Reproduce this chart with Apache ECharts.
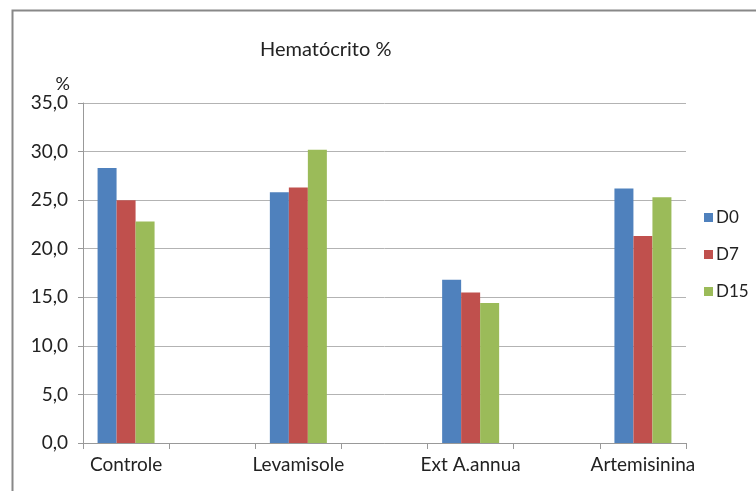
<!DOCTYPE html>
<html>
<head>
<meta charset="utf-8">
<script src="https://cdn.jsdelivr.net/npm/echarts@6/dist/echarts.min.js"></script>
<style>
  html, body { margin: 0; padding: 0; background: #fff; }
  #chart { width: 756px; height: 491px; }
</style>
</head>
<body>
<div id="chart"></div>
<script>
// grupos (com categorias vazias entre eles, como no original)
const categories = ['Controle', '', 'Levamisole', '', 'Ext A.annua', '', 'Artemisinina'];
const d0 = [28.3, null, 25.8, null, 16.8, null, 26.2];
const d7 = [25.0, null, 26.3, null, 15.5, null, 21.3];
const d15 = [22.8, null, 30.2, null, 14.4, null, 25.3];
const seriesNames = ['D0', 'D7', 'D15'];
const yTicks = [0, 5, 10, 15, 20, 25, 30, 35];

const FONT = 'Lato, "Open Sans", sans-serif';
const colors = ['#4F81BD', '#C0504D', '#9BBB59'];

const chart = echarts.init(document.getElementById('chart'), null, { renderer: 'canvas' });

const option = {
    animation: false,
    color: colors,
    textStyle: { fontFamily: FONT },
    title: {
        text: 'Hematócrito %',
        left: 255,
        top: 35,
        textStyle: { fontSize: 20, fontWeight: 'normal', color: '#222', fontFamily: FONT }
    },
    legend: {
        orient: 'vertical',
        left: 699,
        top: 204,
        itemWidth: 9,
        itemHeight: 9,
        itemGap: 20,
        icon: 'rect',
        textStyle: { fontSize: 17, color: '#222', fontFamily: FONT, padding: [0, 0, 0, -2] },
        data: seriesNames
    },
    grid: { left: 83, right: 70, top: 103, bottom: 48 },
    xAxis: {
        type: 'category',
        data: categories,
        boundaryGap: true,
        axisLine: { lineStyle: { color: '#999', width: 1 } },
        axisTick: { show: true, length: 6, lineStyle: { color: '#999' } },
        axisLabel: { interval: 0, margin: 12, fontSize: 19, color: '#222', fontFamily: FONT }
    },
    yAxis: {
        type: 'value',
        min: yTicks[0],
        max: yTicks[yTicks.length - 1],
        interval: 5,
        name: '%',
        nameLocation: 'end',
        nameGap: 7,
        nameTextStyle: { fontSize: 18, color: '#222', align: 'right', padding: [0, 13, 0, 0], fontFamily: FONT },
        axisLine: { show: true, lineStyle: { color: '#999', width: 1 } },
        axisTick: { show: true, length: 5, lineStyle: { color: '#999' } },
        axisLabel: {
            margin: 15,
            fontSize: 19,
            color: '#222',
            fontFamily: FONT,
            formatter: v => v.toFixed(1).replace('.', ',')
        },
        splitLine: { show: true, lineStyle: { color: '#b3b3b3', width: 1 } }
    },
    graphic: [{
        type: 'rect',
        shape: { x: 12.5, y: 10.5, width: 760, height: 500 },
        style: { fill: 'none', stroke: '#888', lineWidth: 2 },
        silent: true,
        z: -1
    }],
    series: [
        { name: seriesNames[0], type: 'bar', data: d0, barWidth: 19, barGap: '0%' },
        { name: seriesNames[1], type: 'bar', data: d7, barWidth: 19, barGap: '0%' },
        { name: seriesNames[2], type: 'bar', data: d15, barWidth: 19, barGap: '0%' }
    ]
};

chart.setOption(option);
</script>
</body>
</html>
